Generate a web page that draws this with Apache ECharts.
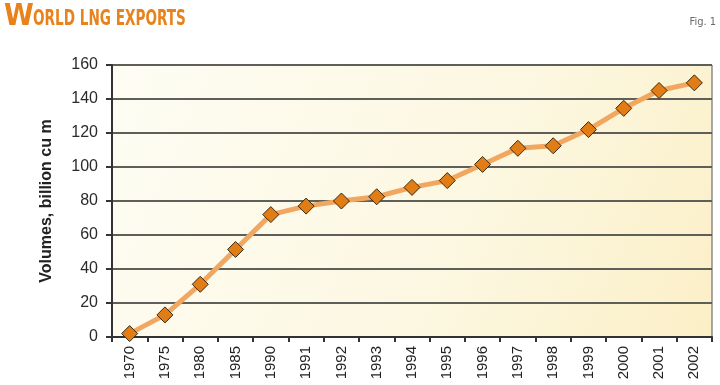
<!DOCTYPE html>
<html><head><meta charset="utf-8">
<script src="https://cdn.jsdelivr.net/npm/echarts@6/dist/echarts.min.js"></script>
<style>html,body{margin:0;padding:0;background:#fff}#c{width:720px;height:385px}</style>
</head><body><div id="c"></div>
<script>
const categories = ['1970','1975','1980','1985','1990','1991','1992','1993','1994','1995','1996','1997','1998','1999','2000','2001','2002'];
const volumes = [2, 13, 31, 51.5, 72, 77, 80, 82.5, 88, 92, 101.5, 111, 112.5, 122, 134.5, 145, 149.5];
const yTicks = [0, 20, 40, 60, 80, 100, 120, 140, 160];
const titleFirst = 'W';
const titleRest = 'ORLD LNG EXPORTS';
const figLabel = 'Fig. 1';
const yName = 'Volumes, billion cu m';

const chart = echarts.init(document.getElementById('c'));
chart.setOption({
  animation: false,
  backgroundColor: '#ffffff',
  graphic: [
    {type: 'text', left: 4, top: 2, style: {text: titleFirst, font: 'bold 30px "DejaVu Sans Condensed"', fill: '#e8821c'}},
    {type: 'text', left: 33, top: 9, scaleX: 0.72, style: {text: titleRest, font: 'bold 21px "DejaVu Sans Condensed"', fill: '#e8821c'}},
    {type: 'text', right: 4, top: 17, style: {text: figLabel, font: '11px "DejaVu Sans Condensed"', fill: '#6a6a6a'}}
  ],
  grid: {
    left: 112, right: 8, top: 65, bottom: 48,
    show: true, borderColor: '#555', borderWidth: 1,
    backgroundColor: {
      type: 'linear', x: 0, y: 0, x2: 1, y2: 1,
      colorStops: [{offset: 0, color: '#fefdf4'}, {offset: 0.6, color: '#fcf7e0'}, {offset: 1, color: '#fbefc6'}]
    }
  },
  xAxis: {
    type: 'category', data: categories, boundaryGap: true,
    axisLine: {lineStyle: {color: '#333', width: 2}},
    axisTick: {show: true, length: 5, lineStyle: {color: '#333', width: 2}},
    axisLabel: {rotate: 90, margin: 9, fontFamily: 'Liberation Sans', fontSize: 15, color: '#222'}
  },
  yAxis: {
    type: 'value', min: 0, max: 160, interval: 20,
    name: yName, nameLocation: 'middle', nameGap: 57, nameRotate: 90,
    nameTextStyle: {fontFamily: 'Liberation Sans', fontWeight: 'bold', fontSize: 16, color: '#222'},
    axisLine: {show: true, lineStyle: {color: '#333', width: 2}},
    axisTick: {show: true, length: 6, lineStyle: {color: '#333', width: 2}},
    axisLabel: {margin: 14, fontFamily: 'Liberation Sans', fontSize: 16, color: '#2a2a2a',
      formatter: v => yTicks.includes(v) ? String(v) : ''},
    splitLine: {show: true, lineStyle: {color: '#5f5f5a', width: 2}}
  },
  series: [{
    type: 'line', data: volumes,
    lineStyle: {color: '#f2a760', width: 5},
    symbol: 'diamond', symbolSize: 16,
    itemStyle: {color: '#e27c14', borderColor: '#3a2a12', borderWidth: 1},
    z: 5
  }]
});
</script></body></html>
